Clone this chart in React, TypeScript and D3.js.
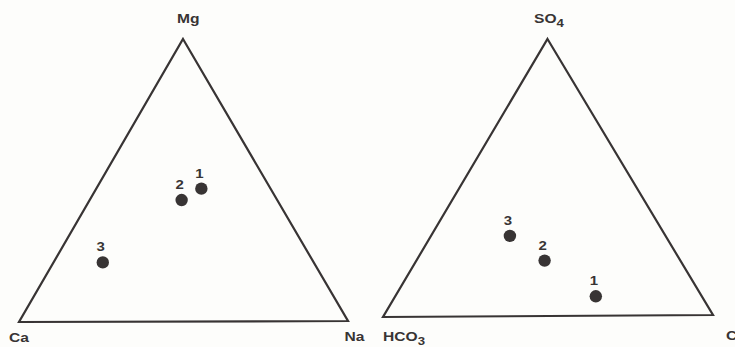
import React from "react";
import * as d3 from "d3";

// Cation diagram: percent Mg (top), Ca (left), Na (right)
const cationSamples = ["1", "2", "3"];
const mgPct = [47, 43, 21];
const caPct = [21, 29, 64];
const naPct = [32, 28, 15];

// Anion diagram: percent SO4 (top), HCO3 (left), Cl (right)
const anionSamples = ["1", "2", "3"];
const so4Pct = [7, 20, 29];
const hco3Pct = [32, 41, 47];
const clPct = [61, 39, 24];

type Pt = [number, number];

const INK = "#383434";
const FONT = "'Liberation Sans', Arial, Helvetica, sans-serif";

// Bold, slightly widened text drawn from its left baseline point (or centre)
function Label({
  x,
  y,
  size,
  anchor = "start",
  children,
}: {
  x: number;
  y: number;
  size: number;
  anchor?: "start" | "middle";
  children: React.ReactNode;
}) {
  return (
    <text
      transform={`translate(${x},${y}) scale(1.2,1)`}
      textAnchor={anchor}
      fontSize={size}
      fontWeight="bold"
      fill={INK}
      fontFamily={FONT}
    >
      {children}
    </text>
  );
}

function Ternary({
  top,
  left,
  right,
  samples,
  topVals,
  leftVals,
  rightVals,
  labels,
}: {
  top: Pt;
  left: Pt;
  right: Pt;
  samples: string[];
  topVals: number[];
  leftVals: number[];
  rightVals: number[];
  labels: { pos: Pt; text: React.ReactNode }[];
}) {
  // percent -> vertex weight
  const frac = d3.scaleLinear().domain([0, 100]).range([0, 1]);
  const toXY = (a: number, b: number, c: number): Pt => {
    const s = a + b + c;
    const wa = frac((a / s) * 100);
    const wb = frac((b / s) * 100);
    const wc = frac((c / s) * 100);
    return [
      wa * top[0] + wb * left[0] + wc * right[0],
      wa * top[1] + wb * left[1] + wc * right[1],
    ];
  };
  const outline = d3.line<Pt>()([top, right, left]) + "Z";
  return (
    <g>
      <path d={outline} fill="none" stroke={INK} strokeWidth={2.2} strokeLinejoin="miter" />
      {samples.map((s, i) => {
        const [x, y] = toXY(topVals[i], leftVals[i], rightVals[i]);
        return (
          <g key={s}>
            <circle cx={x} cy={y} r={6.2} fill={INK} />
            <Label x={x - 2} y={y - 11} size={12.5} anchor="middle">
              {s}
            </Label>
          </g>
        );
      })}
      {labels.map((l, i) => (
        <Label key={i} x={l.pos[0]} y={l.pos[1]} size={13}>
          {l.text}
        </Label>
      ))}
    </g>
  );
}

export default function App() {
  return (
    <svg
      width={735}
      height={347}
      style={{ position: "absolute", left: 0, top: 0, background: "#fdfdfb" }}
    >
      <Ternary
        top={[183, 39]}
        left={[19, 322]}
        right={[348, 321]}
        samples={cationSamples}
        topVals={mgPct}
        leftVals={caPct}
        rightVals={naPct}
        labels={[
          { pos: [177, 23], text: "Mg" },
          { pos: [9, 341.5], text: "Ca" },
          { pos: [344.5, 341], text: "Na" },
        ]}
      />
      <Ternary
        top={[547.5, 39]}
        left={[383, 317]}
        right={[713, 315]}
        samples={anionSamples}
        topVals={so4Pct}
        leftVals={hco3Pct}
        rightVals={clPct}
        labels={[
          {
            pos: [534, 22.5],
            text: (
              <>
                SO<tspan fontSize={11} dy={4}>4</tspan>
              </>
            ),
          },
          {
            pos: [383, 341],
            text: (
              <>
                HCO<tspan fontSize={11} dy={4}>3</tspan>
              </>
            ),
          },
          { pos: [726, 339.5], text: "Cl" },
        ]}
      />
    </svg>
  );
}
